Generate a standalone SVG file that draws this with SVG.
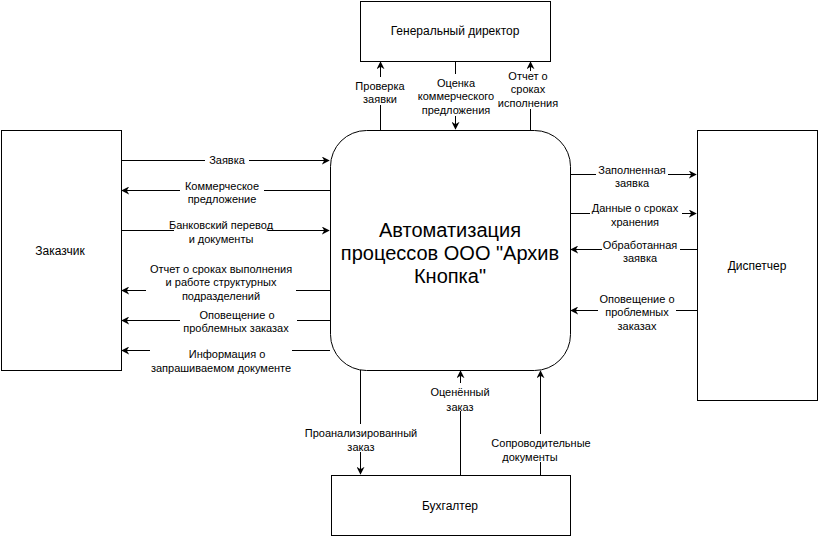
<svg xmlns="http://www.w3.org/2000/svg" width="818" height="536" viewBox="0 0 818 536">
<style>
.box{fill:#fff;stroke:#000;stroke-width:1}
.ln{fill:none;stroke:#000;stroke-width:1}
.t{font-family:"Liberation Sans",Arial,sans-serif;font-size:12px;fill:#000;text-anchor:middle}
.l{font-family:"Liberation Sans",Arial,sans-serif;font-size:11px;fill:#000;text-anchor:middle}
.big{font-family:"Liberation Sans",Arial,sans-serif;font-size:20px;fill:#000;text-anchor:middle}
.bg{fill:#fff;stroke:none}
</style>
<defs>
<marker id="a" viewBox="0 0 10 10" refX="9" refY="5" markerWidth="8" markerHeight="8" markerUnits="userSpaceOnUse" orient="auto">
<path d="M0,0 L10,5 L0,10 L3,5 Z" fill="#000"/>
</marker>
</defs>
<rect width="818" height="536" fill="#fff"/>
<g id="connectors">
<line class="ln" x1="380.5" y1="130" x2="380.5" y2="62" marker-end="url(#a)"/>
<line class="ln" x1="455.5" y1="61" x2="455.5" y2="129" marker-end="url(#a)"/>
<line class="ln" x1="530.5" y1="130" x2="530.5" y2="62" marker-end="url(#a)"/>
<line class="ln" x1="121" y1="160.5" x2="329" y2="160.5" marker-end="url(#a)"/>
<line class="ln" x1="330" y1="190.5" x2="122" y2="190.5" marker-end="url(#a)"/>
<line class="ln" x1="121" y1="230.5" x2="329" y2="230.5" marker-end="url(#a)"/>
<line class="ln" x1="330" y1="290.5" x2="122" y2="290.5" marker-end="url(#a)"/>
<line class="ln" x1="330" y1="320.5" x2="122" y2="320.5" marker-end="url(#a)"/>
<line class="ln" x1="330" y1="350.5" x2="122" y2="350.5" marker-end="url(#a)"/>
<line class="ln" x1="570" y1="174.5" x2="696" y2="174.5" marker-end="url(#a)"/>
<line class="ln" x1="570" y1="213.5" x2="696" y2="213.5" marker-end="url(#a)"/>
<line class="ln" x1="697" y1="249.5" x2="571" y2="249.5" marker-end="url(#a)"/>
<line class="ln" x1="697" y1="310.5" x2="571" y2="310.5" marker-end="url(#a)"/>
<line class="ln" x1="360.5" y1="370" x2="360.5" y2="474" marker-end="url(#a)"/>
<line class="ln" x1="460.5" y1="475" x2="460.5" y2="371" marker-end="url(#a)"/>
<line class="ln" x1="540.5" y1="475" x2="540.5" y2="371" marker-end="url(#a)"/>
<g id="labels">
<rect class="bg" x="352" y="77" width="56" height="28"/>
<text class="l" x="380" y="90">Проверка</text>
<text class="l" x="380" y="103">заявки</text>
<rect class="bg" x="413" y="74" width="86" height="42"/>
<text class="l" x="456" y="87">Оценка</text>
<text class="l" x="456" y="100">коммерческого</text>
<text class="l" x="456" y="114">предложения</text>
<rect class="bg" x="497" y="71" width="62" height="38"/>
<text class="l" x="528" y="80">Отчет о</text>
<text class="l" x="528" y="93">сроках</text>
<text class="l" x="528" y="107">исполнения</text>
<rect class="bg" x="205" y="154" width="44" height="13"/>
<text class="l" x="227" y="164">Заявка</text>
<rect class="bg" x="180" y="177" width="84" height="28"/>
<text class="l" x="222" y="190">Коммерческое</text>
<text class="l" x="222" y="203">предложение</text>
<rect class="bg" x="174" y="216" width="94" height="28"/>
<text class="l" x="221" y="229">Банковский перевод</text>
<text class="l" x="221" y="243">и документы</text>
<rect class="bg" x="146" y="260" width="150" height="42"/>
<text class="l" x="221" y="273">Отчет о сроках выполнения</text>
<text class="l" x="221" y="286">и работе структурных</text>
<text class="l" x="221" y="300">подразделений</text>
<rect class="bg" x="180" y="306" width="117" height="28"/>
<text class="l" x="237" y="319">Оповещение о</text>
<text class="l" x="236" y="332">проблемных заказах</text>
<rect class="bg" x="150" y="345" width="142" height="28"/>
<text class="l" x="227" y="358">Информация о</text>
<text class="l" x="221" y="372">запрашиваемом документе</text>
<rect class="bg" x="596" y="161" width="72" height="28"/>
<text class="l" x="632" y="174">Заполненная</text>
<text class="l" x="632" y="187">заявка</text>
<rect class="bg" x="590" y="199" width="92" height="28"/>
<text class="l" x="635" y="212">Данные о сроках</text>
<text class="l" x="635" y="226">хранения</text>
<rect class="bg" x="602" y="236" width="78" height="28"/>
<text class="l" x="640" y="249">Обработанная</text>
<text class="l" x="640" y="262">заявка</text>
<rect class="bg" x="598" y="290" width="78" height="42"/>
<text class="l" x="637" y="303">Оповещение о</text>
<text class="l" x="637" y="316">проблемных</text>
<text class="l" x="637" y="330">заказах</text>
<rect class="bg" x="300" y="424" width="122" height="28"/>
<text class="l" x="361" y="437">Проанализированный</text>
<text class="l" x="361" y="451">заказ</text>
<rect class="bg" x="428" y="383" width="64" height="28"/>
<text class="l" x="460" y="396">Оценённый</text>
<text class="l" x="460" y="411">заказ</text>
<rect class="bg" x="488" y="434" width="106" height="28"/>
<text class="l" x="541" y="447">Сопроводительные</text>
<text class="l" x="530" y="461">документы</text>
</g>
</g>
<g id="director">
<rect class="box" x="360.5" y="1.5" width="190" height="60"/>
<text class="t" x="455" y="35">Генеральный директор</text>
</g>
<g id="process">
<rect class="box" x="330.5" y="130.5" width="240" height="240" rx="36" ry="36"/>
<text class="big" x="450" y="237">Автоматизация</text>
<text class="big" x="450" y="260">процессов ООО "Архив</text>
<text class="big" x="450" y="283">Кнопка"</text>
</g>
<g id="customer">
<rect class="box" x="1.5" y="130.5" width="120" height="240"/>
<text class="t" x="60" y="255">Заказчик</text>
</g>
<g id="dispatcher">
<rect class="box" x="697.5" y="130.5" width="120" height="270"/>
<text class="t" x="757" y="270">Диспетчер</text>
</g>
<g id="accountant">
<rect class="box" x="331.5" y="475.5" width="239" height="60"/>
<text class="t" x="450" y="510">Бухгалтер</text>
</g>
</svg>
